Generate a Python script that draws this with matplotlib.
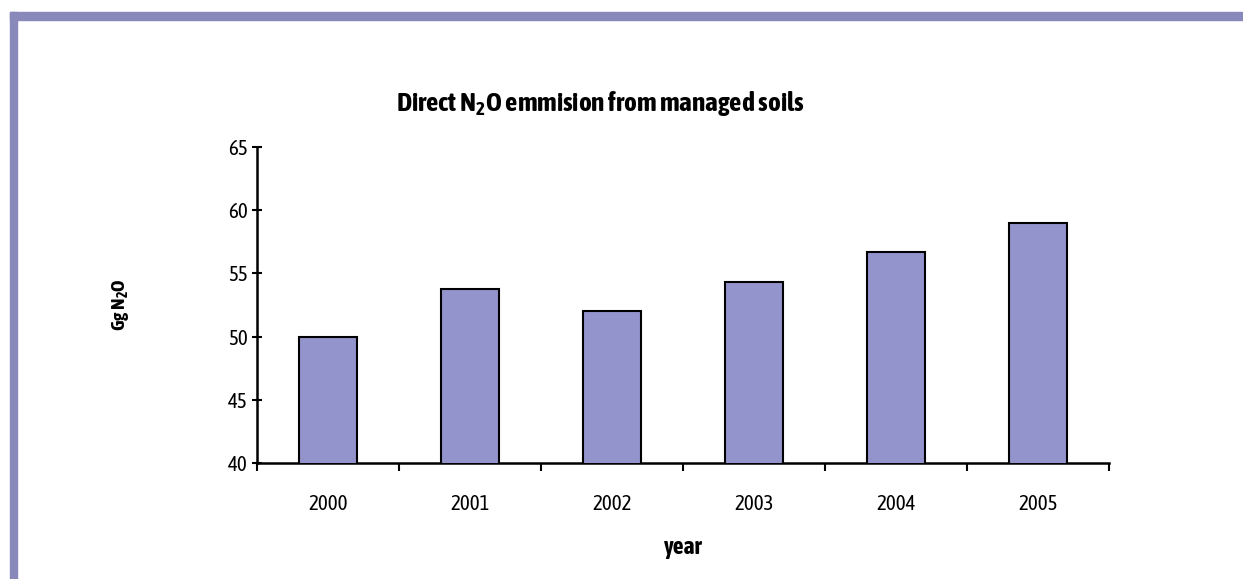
import matplotlib
matplotlib.use("Agg")
import matplotlib.pyplot as plt
from matplotlib.patches import Rectangle

# ── data ────────────────────────────────────────────
YEARS    = ["2000", "2001", "2002", "2003", "2004", "2005"]
EMISSION = [50.0, 53.8, 52.0, 54.3, 56.7, 59.0]   # Gg N2O
Y_TICKS  = [40, 45, 50, 55, 60, 65]

FRAME_COL = "#8888bb"
BAR_COL   = "#9494cc"
FONT      = ["Asap Condensed", "DejaVu Sans"]

plt.rcParams["font.family"] = FONT
plt.rcParams["mathtext.fontset"] = "custom"
plt.rcParams["mathtext.rm"] = "Asap Condensed"
plt.rcParams["mathtext.bf"] = "Asap Condensed:bold"

fig = plt.figure(figsize=(12.43, 5.79), dpi=100)

# purple frame on top and left edge
fig.patches.append(Rectangle((10/1243, 0), 7/1243, 1 - 12/579,
                             transform=fig.transFigure, color=FRAME_COL, zorder=0))
fig.patches.append(Rectangle((10/1243, 1 - 20/579), 1, 8/579,
                             transform=fig.transFigure, color=FRAME_COL, zorder=0))

ax = fig.add_axes([257/1243, 1 - 463/579, (1109 - 257)/1243, (463 - 147)/579])
x = range(len(YEARS))
ax.bar(x, EMISSION, width=0.41, color=BAR_COL, edgecolor="black", linewidth=1.5, zorder=3)

ax.set_ylim(40, 65)
ax.set_xlim(-0.5, len(YEARS) - 0.5)
ax.set_yticks(Y_TICKS)
# major ticks sit between the bars, labels on minor ticks under each bar
ax.set_xticks([i + 0.5 for i in range(-1, len(YEARS))])
ax.set_xticklabels([])
ax.set_xticks(list(x), minor=True)
ax.set_xticklabels(YEARS, minor=True)
ax.tick_params(axis="x", which="minor", length=0, pad=22, labelsize=15)
ax.tick_params(axis="x", which="major", length=6, width=1.5, direction="out")
ax.tick_params(axis="y", length=7, width=1.5, direction="inout", labelsize=15, pad=3)

for s in ["top", "right"]:
    ax.spines[s].set_visible(False)
for s in ["left", "bottom"]:
    ax.spines[s].set_linewidth(1.8)

ax.set_xlabel("year", fontsize=17, fontweight="bold", labelpad=16)
ax.set_ylabel(r"Gg N$\mathbf{_2}$O", fontsize=14, fontweight="bold", labelpad=70)

fig.text(600/1243, 1 - 103/579, r"Direct N$\mathbf{_2}$O emmision from managed soils",
         ha="center", va="center", fontsize=19.5, fontweight="bold")

fig.savefig("out.png", dpi=100)
